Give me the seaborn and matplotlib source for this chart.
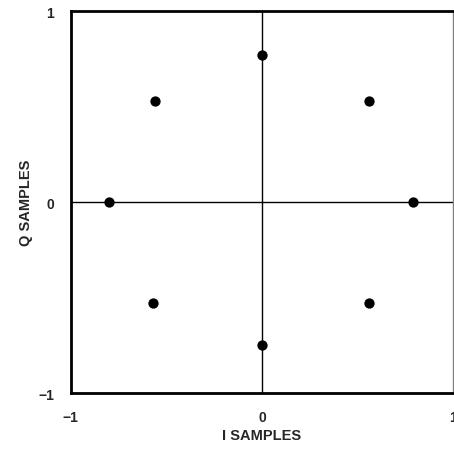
import matplotlib
matplotlib.use("Agg")
from matplotlib import pyplot as plt
import seaborn as sns
import pandas as pd

# constellation points
i_samples = [0.0, 0.56, 0.79, 0.56, 0.0, -0.57, -0.80, -0.56]
q_samples = [0.77, 0.53, 0.0, -0.53, -0.75, -0.53, 0.0, 0.53]
tick_values = [-1, 0, 1]
tick_labels = ["\u22121", "0", "1"]

df = pd.DataFrame({"I": i_samples, "Q": q_samples})

sns.set_style("white")
plt.rcParams["font.family"] = ["Liberation Sans", "DejaVu Sans"]

fig = plt.figure(figsize=(4.54, 4.52), dpi=100)
ax = fig.add_axes([0.156, 0.128, 0.842, 0.845])

ax.axhline(0, color="black", lw=1, zorder=1)
ax.axvline(0, color="black", lw=1, zorder=1)
sns.scatterplot(data=df, x="I", y="Q", ax=ax, color="black", s=55,
                edgecolor="black", linewidth=0, zorder=3)

ax.set_xlim(-1, 1)
ax.set_ylim(-1, 1)
ax.set_xticks(tick_values)
ax.set_xticklabels(tick_labels, fontweight="bold", fontsize=10)
ax.set_yticks(tick_values)
ax.set_yticklabels(tick_labels, fontweight="bold", fontsize=10)
ax.tick_params(axis="x", length=0, pad=12)
ax.tick_params(axis="y", length=0, pad=12)
ax.set_xlabel("I SAMPLES", fontweight="bold", fontsize=10.5, labelpad=3)
ax.set_ylabel("Q SAMPLES", fontweight="bold", fontsize=10.5, labelpad=4)

for side in ["left", "bottom", "top"]:
    ax.spines[side].set_linewidth(2)
    ax.spines[side].set_color("black")
ax.spines["right"].set_linewidth(1)
ax.spines["right"].set_color("gray")

plt.savefig("out.png", dpi=100)
